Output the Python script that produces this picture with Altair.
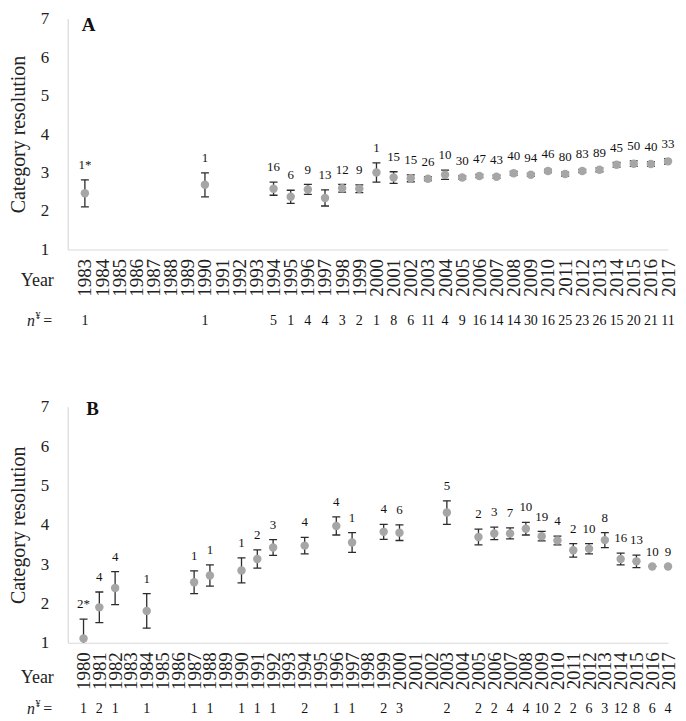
import altair as alt
import pandas as pd

SERIF = "Liberation Serif"
PT_COLOR = "#A6A6A6"
BAR_COLOR = "#2b2b2b"
AXIS_COLOR = "#D9D9D9"
TXT = "#222222"

# ---------------- Panel A data ----------------
a_years = [1983, 1990, 1994, 1995, 1996, 1997, 1998, 1999, 2000, 2001, 2002, 2003, 2004,
           2005, 2006, 2007, 2008, 2009, 2010, 2011, 2012, 2013, 2014, 2015, 2016, 2017]
a_mean = [2.46, 2.68, 2.58, 2.37, 2.56, 2.34, 2.59, 2.58, 3.00, 2.87, 2.85, 2.84, 2.94,
          2.87, 2.91, 2.89, 2.98, 2.94, 3.04, 2.96, 3.04, 3.07, 3.20, 3.23, 3.22, 3.29]
a_err = [0.35, 0.31, 0.17, 0.17, 0.13, 0.21, 0.10, 0.10, 0.25, 0.15, 0.09, 0.05, 0.12,
         0.04, 0.04, 0.04, 0.05, 0.04, 0.04, 0.05, 0.04, 0.05, 0.06, 0.07, 0.06, 0.07]
a_lab = ["1*", "1", "16", "6", "9", "13", "12", "9", "1", "15", "15", "26", "10",
         "30", "47", "43", "40", "94", "46", "80", "83", "89", "45", "50", "40", "33"]
a_n = [1, 1, 5, 1, 4, 4, 3, 2, 1, 8, 6, 11, 4, 9, 16, 14, 14, 30, 16, 25, 23, 26, 15, 20, 21, 11]

# ---------------- Panel B data ----------------
b_years = [1980, 1981, 1982, 1984, 1987, 1988, 1990, 1991, 1992, 1994, 1996, 1997, 1999, 2000,
           2003, 2005, 2006, 2007, 2008, 2009, 2010, 2011, 2012, 2013, 2014, 2015, 2016, 2017]
b_mean = [1.11, 1.90, 2.39, 1.81, 2.54, 2.71, 2.84, 3.13, 3.42, 3.47, 3.97, 3.55, 3.82, 3.80,
          4.31, 3.69, 3.78, 3.78, 3.90, 3.71, 3.60, 3.35, 3.39, 3.61, 3.13, 3.07, 2.94, 2.94]
b_err = [0.49, 0.39, 0.42, 0.44, 0.29, 0.27, 0.32, 0.23, 0.20, 0.21, 0.23, 0.25, 0.19, 0.20,
         0.30, 0.20, 0.16, 0.14, 0.16, 0.12, 0.11, 0.17, 0.13, 0.19, 0.15, 0.16, 0.0, 0.0]
b_lab = ["2*", "4", "4", "1", "1", "1", "1", "2", "3", "4", "4", "1", "4", "6",
         "5", "2", "3", "7", "10", "19", "4", "2", "10", "8", "16", "13", "10", "9"]
b_n = [1, 2, 1, 1, 1, 1, 1, 1, 1, 2, 1, 1, 2, 3, 2, 2, 2, 4, 4, 10, 2, 2, 6, 3, 12, 8, 6, 4]

y_ticks = [1, 2, 3, 4, 5, 6, 7]
W = 603


def panel(years, mean, err, lab, n, first_year, letter, letter_x, letter_y, year_dy, n_dy, H):
    df = pd.DataFrame({"year": years, "mean": mean, "err": err, "lab": lab, "n": n})
    df["lo"] = df["mean"] - df["err"]
    df["hi"] = df["mean"] + df["err"]

    xscale = alt.Scale(domain=[first_year - 1, 2017], nice=False, zero=False)
    xaxis = alt.Axis(values=list(range(first_year, 2018)), format="d", labelAngle=270,
                     labelAlign="right", labelBaseline="middle", labelFontSize=19,
                     labelFont=SERIF, labelColor=TXT, labelPadding=9, ticks=False,
                     grid=False, domainColor=AXIS_COLOR, domainWidth=1.2,
                     labelOverlap=False, labelFlush=False, title=None)
    yscale = alt.Scale(domain=[1, 7], nice=False, zero=False)
    yaxis = alt.Axis(values=y_ticks, format="d", labelFontSize=17, labelFont=SERIF,
                     labelColor=TXT, labelPadding=19, ticks=False, grid=False,
                     domainColor=AXIS_COLOR, domainWidth=1.2,
                     title="Category resolution", titleFont=SERIF, titleFontSize=20,
                     titleFontWeight="normal", titleColor=TXT, titlePadding=12)

    X = alt.X("year:Q", scale=xscale, axis=xaxis)
    base = alt.Chart(df)

    bars = base.mark_rule(color=BAR_COLOR, strokeWidth=1.3, clip=True).encode(
        x=X, y=alt.Y("lo:Q", scale=yscale, axis=yaxis), y2="hi:Q")
    cap_hi = base.mark_rule(color=BAR_COLOR, strokeWidth=1.3, xOffset=-4, x2Offset=4,
                            clip=True).encode(
        x=X, x2="year:Q", y=alt.Y("hi:Q", scale=yscale, axis=yaxis))
    cap_lo = base.mark_rule(color=BAR_COLOR, strokeWidth=1.3, xOffset=-4, x2Offset=4,
                            clip=True).encode(
        x=X, x2="year:Q", y=alt.Y("lo:Q", scale=yscale, axis=yaxis))
    pts = base.mark_circle(size=72, color=PT_COLOR, opacity=1).encode(
        x=X, y=alt.Y("mean:Q", scale=yscale, axis=yaxis))
    labels = base.mark_text(dy=-15, fontSize=13, font=SERIF, color="#111111",
                            baseline="middle").encode(
        x=X, y=alt.Y("hi:Q", scale=yscale, axis=yaxis), text="lab:N")
    nrow = base.mark_text(fontSize=14, font=SERIF, color="#111111", baseline="middle").encode(
        x=X, y=alt.value(H + n_dy), text="n:Q")

    one = alt.Chart(pd.DataFrame({"k": [0]}))
    letter_t = one.mark_text(text=letter, fontSize=19, font=SERIF, fontWeight="bold",
                             color="#111111", baseline="middle").encode(
        x=alt.value(letter_x), y=alt.value(letter_y))
    year_t = one.mark_text(text="Year", fontSize=18, font=SERIF, color=TXT,
                           align="right", baseline="middle").encode(
        x=alt.value(-14), y=alt.value(H + year_dy))
    n_t = one.mark_text(text="n", fontSize=16, font=SERIF, fontStyle="italic", color=TXT,
                        baseline="middle").encode(
        x=alt.value(-37), y=alt.value(H + n_dy))
    yen_t = one.mark_text(text="¥", fontSize=10, font=SERIF, color=TXT,
                          baseline="middle").encode(
        x=alt.value(-30), y=alt.value(H + n_dy - 5))
    eq_t = one.mark_text(text="=", fontSize=16, font=SERIF, color=TXT,
                         baseline="middle").encode(
        x=alt.value(-20), y=alt.value(H + n_dy))

    return alt.layer(bars, cap_hi, cap_lo, pts, labels, nrow,
                     letter_t, year_t, n_t, yen_t, eq_t).properties(width=W, height=H)


pA = panel(a_years, a_mean, a_err, a_lab, a_n, 1983, "A", 21, 7, 32, 72, 232)
pB = panel(b_years, b_mean, b_err, b_lab, b_n, 1980, "B", 25, 2, 35, 67, 237)

chart = alt.vconcat(pA, pB, spacing=69).properties(
    padding={"left": 0, "top": 0, "right": 0, "bottom": 0}
).configure_view(stroke=None)

chart.save("out.html", embed_options={"renderer": "svg", "actions": False})
